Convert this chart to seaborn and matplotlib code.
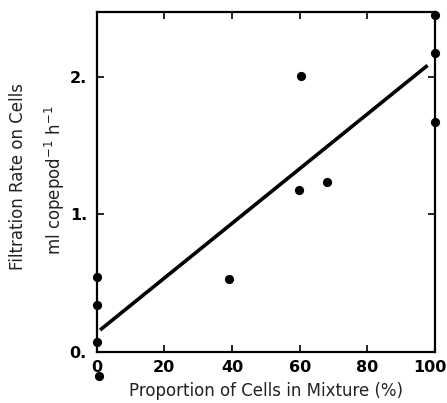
import matplotlib
matplotlib.use("Agg")
import matplotlib.pyplot as plt
import matplotlib.transforms as mtransforms
import seaborn as sns
import pandas as pd

# data
prop_cells = [0, 0, 0, 0.7, 39.2, 60.4, 59.9, 68.0, 100, 100, 100]
filtration = [0.546, 0.34, 0.068, -0.177, 0.527, 2.007, 1.177, 1.233, 2.45, 2.177, 1.675]
fit_x = [1.0, 97.8]
fit_y = [0.158, 2.085]
x_ticks = [0, 20, 40, 60, 80, 100]
x_labels = ["0", "20", "40", "60", "80", "100"]
y_ticks = [0, 1, 2]
y_labels = ["0.", "1.", "2."]

sns.set_theme(style="ticks")
plt.rcParams['font.family'] = ['DejaVu Sans']

df = pd.DataFrame({"x": prop_cells, "y": filtration})
fit = pd.DataFrame({"x": fit_x, "y": fit_y})

fig = plt.figure(figsize=(4.47, 4.03), dpi=100)
ax = fig.add_axes([0.2163, 0.1273, 0.7569, 0.8437])

sns.lineplot(data=fit, x="x", y="y", ax=ax, color="black", linewidth=2.6,
             solid_capstyle="butt")
sns.scatterplot(data=df, x="x", y="y", ax=ax, color="black", s=44,
                edgecolor="black", linewidth=0, zorder=5)
for c in ax.collections:
    c.set_clip_on(False)

ax.set_xlim(0, 100)
ax.set_ylim(0, 2.476)
ax.set_xticks(x_ticks)
ax.set_xticklabels(x_labels, fontweight="bold", fontsize=11.5)
ax.set_yticks(y_ticks)
ax.set_yticklabels(y_labels, fontweight="bold", fontsize=11.5)
ax.tick_params(direction="in", length=5, width=1.2, top=True, right=True,
               colors="black")
ax.tick_params(axis="x", pad=6)
ax.tick_params(axis="y", pad=7)
for s in ax.spines.values():
    s.set_linewidth(1.6)
    s.set_color("black")

# nudge the last x tick label slightly left so it stays inside the figure
last = ax.get_xticklabels()[-1]
last.set_transform(last.get_transform() +
                   mtransforms.ScaledTranslation(-5 / 100, 0, fig.dpi_scale_trans))

ax.set_xlabel("Proportion of Cells in Mixture (%)", fontsize=12, labelpad=5,
              color="#222222")
ax.set_ylabel("")
fig.text(0.04, 0.563, "Filtration Rate on Cells", rotation=90, fontsize=12,
         ha="center", va="center", color="#222222")
fig.text(0.123, 0.553, "ml copepod$^{-1}$ h$^{-1}$", rotation=90, fontsize=12,
         ha="center", va="center", color="#222222")

fig.savefig("out.png", dpi=100, facecolor="white")
